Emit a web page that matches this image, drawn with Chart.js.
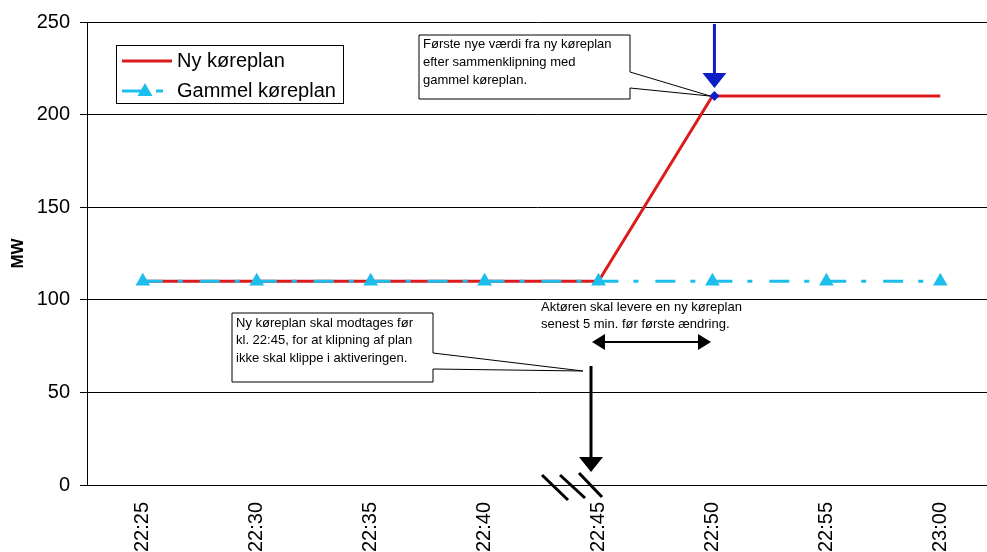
<!DOCTYPE html>
<html>
<head>
<meta charset="utf-8">
<script src="https://cdn.jsdelivr.net/npm/chart.js@4.4.0/dist/chart.umd.min.js"></script>
<style>
  html, body { margin: 0; padding: 0; background: #fff; overflow: hidden; }
  #wrap { width: 987px; height: 552px; }
</style>
</head>
<body>
<div id="wrap"><canvas id="chartCanvas"></canvas></div>
<script>
const timeLabels = ['22:25', '22:30', '22:35', '22:40', '22:45', '22:50', '22:55', '23:00'];
const nyKoreplan = [110, 110, 110, 110, 110, 210, 210, 210];
const gammelKoreplan = [110, 110, 110, 110, 110, 110, 110, 110];
const yTicks = [0, 50, 100, 150, 200, 250];

const FONT = 'Arial, "Liberation Sans", sans-serif';
const RED = '#dc1c1c';
const CYAN = '#1dbdec';
const BLUE = '#0c1ec8';

const toPoints = (values) => values.map((v, i) => ({ x: i, y: v }));

function line(ctx, x1, y1, x2, y2) {
  ctx.beginPath();
  ctx.moveTo(x1, y1);
  ctx.lineTo(x2, y2);
  ctx.stroke();
}

function tri(ctx, pts) {
  ctx.beginPath();
  ctx.moveTo(pts[0][0], pts[0][1]);
  ctx.lineTo(pts[1][0], pts[1][1]);
  ctx.lineTo(pts[2][0], pts[2][1]);
  ctx.closePath();
  ctx.fill();
}

// boks med "hale" der peger paa et punkt
function callout(ctx, box, tip, wedge, lines, lineY) {
  const r = box.x + box.w, b = box.y + box.h;
  ctx.beginPath();
  ctx.moveTo(box.x, box.y);
  ctx.lineTo(r, box.y);
  ctx.lineTo(r, wedge[0]);
  ctx.lineTo(tip.x, tip.y);
  ctx.lineTo(r, wedge[1]);
  ctx.lineTo(r, b);
  ctx.lineTo(box.x, b);
  ctx.closePath();
  ctx.fillStyle = '#fff';
  ctx.fill();
  ctx.strokeStyle = '#000';
  ctx.lineWidth = 1;
  ctx.stroke();
  ctx.fillStyle = '#000';
  ctx.font = '13px ' + FONT;
  ctx.textAlign = 'left';
  ctx.textBaseline = 'middle';
  lines.forEach((t, i) => ctx.fillText(t, box.x + 4, lineY[i]));
}

const annotations = {
  id: 'annotations',
  afterDatasetsDraw(chart) {
    const { ctx, scales } = chart;
    const px = scales.x.getPixelForValue(5);
    const py = scales.y.getPixelForValue(nyKoreplan[5]);
    ctx.save();

    // callout øverst
    callout(ctx, { x: 419, y: 35, w: 211, h: 64 }, { x: px - 2, y: py }, [72, 88],
      ['Første nye værdi fra ny køreplan', 'efter sammenklipning med', 'gammel køreplan.'], [44, 62, 80]);

    // blå pil ned mod første nye værdi
    ctx.strokeStyle = BLUE;
    ctx.fillStyle = BLUE;
    ctx.lineWidth = 3;
    line(ctx, px + 2, 24, px + 2, 76);
    tri(ctx, [[px - 10, 73], [px + 14, 73], [px + 2, 88]]);
    ctx.beginPath();
    ctx.moveTo(px + 2, py - 5);
    ctx.lineTo(px + 7, py);
    ctx.lineTo(px + 2, py + 5);
    ctx.lineTo(px - 3, py);
    ctx.closePath();
    ctx.fill();

    // callout nederst
    callout(ctx, { x: 232, y: 313, w: 201, h: 69 }, { x: 583, y: 371 }, [353, 369],
      ['Ny køreplan skal modtages før', 'kl. 22:45, for at klipning af plan', 'ikke skal klippe i aktiveringen.'], [323, 340, 358]);

    // sort pil
    ctx.strokeStyle = '#000';
    ctx.fillStyle = '#000';
    ctx.lineWidth = 3;
    line(ctx, 591, 366, 591, 458);
    tri(ctx, [[579, 457], [603, 457], [591, 472]]);

    // brudstreger
    line(ctx, 542, 475, 568, 500);
    line(ctx, 560, 475, 585, 498);
    line(ctx, 579, 473, 602, 497);

    // dobbeltpil
    ctx.lineWidth = 2;
    line(ctx, 600, 342, 703, 342);
    tri(ctx, [[592, 342], [605, 334], [605, 350]]);
    tri(ctx, [[711, 342], [698, 334], [698, 350]]);
    ctx.font = '13px ' + FONT;
    ctx.textAlign = 'left';
    ctx.textBaseline = 'middle';
    ctx.fillText('Aktøren skal levere en ny køreplan', 541, 307);
    ctx.fillText('senest 5 min. før første ændring.', 541, 324);

    // forklaring
    ctx.fillStyle = '#fff';
    ctx.fillRect(116, 45, 227, 58);
    ctx.strokeStyle = '#000';
    ctx.lineWidth = 1;
    ctx.strokeRect(116.5, 45.5, 227, 58);
    ctx.lineWidth = 3;
    ctx.strokeStyle = RED;
    line(ctx, 122, 61, 172, 61);
    ctx.strokeStyle = CYAN;
    ctx.fillStyle = CYAN;
    line(ctx, 122, 91, 146, 91);
    line(ctx, 156, 91, 163, 91);
    tri(ctx, [[145, 83], [152.5, 96], [137.5, 96]]);
    ctx.fillStyle = '#000';
    ctx.font = '20px ' + FONT;
    ctx.fillText('Ny køreplan', 177, 61);
    ctx.fillText('Gammel køreplan', 177, 91);

    ctx.restore();
  }
};

new Chart(document.getElementById('chartCanvas'), {
  type: 'line',
  data: {
    datasets: [
      {
        label: 'Ny køreplan',
        data: toPoints(nyKoreplan),
        borderColor: RED,
        borderWidth: 3,
        pointRadius: 0,
        tension: 0,
        order: 1,
      },
      {
        label: 'Gammel køreplan',
        data: toPoints(gammelKoreplan),
        borderColor: CYAN,
        backgroundColor: CYAN,
        borderWidth: 3,
        borderDash: [20, 15, 5, 16.95],
        pointStyle: 'triangle',
        pointRadius: 8.5,
        pointBorderWidth: 0,
        pointBackgroundColor: CYAN,
        tension: 0,
        order: 0,
      },
    ],
  },
  options: {
    responsive: true,
    maintainAspectRatio: false,
    animation: false,
    devicePixelRatio: 1,
    layout: { autoPadding: false, padding: { top: 21, right: 0, bottom: 0, left: 0 } },
    plugins: { legend: { display: false }, tooltip: { enabled: false } },
    scales: {
      x: {
        type: 'linear',
        min: -0.49,
        max: 7.41,
        afterBuildTicks: (scale) => { scale.ticks = timeLabels.map((_, i) => ({ value: i })); },
        afterFit: (scale) => {
          scale.height = 67;
          scale.paddingLeft = 0;
          scale.paddingRight = 0;
        },
        ticks: {
          callback: (v) => timeLabels[v],
          autoSkip: false,
          minRotation: 90,
          maxRotation: 90,
          padding: 17,
          color: '#000',
          font: { family: FONT, size: 20 },
        },
        grid: { display: false, drawTicks: false },
        border: { display: true, color: '#000', width: 1 },
      },
      y: {
        min: 0,
        max: 250,
        afterBuildTicks: (scale) => { scale.ticks = yTicks.map((v) => ({ value: v })); },
        afterFit: (scale) => { scale.width = 87; },
        ticks: {
          padding: 10,
          color: '#000',
          font: { family: FONT, size: 20 },
        },
        grid: { color: '#000', lineWidth: 1, tickLength: 7 },
        border: { color: '#000', width: 1 },
        title: {
          display: true,
          text: 'MW',
          color: '#000',
          font: { family: FONT, size: 17, weight: 'bold' },
          padding: { top: 8, bottom: 0 },
        },
      },
    },
  },
  plugins: [annotations],
});
</script>
</body>
</html>
